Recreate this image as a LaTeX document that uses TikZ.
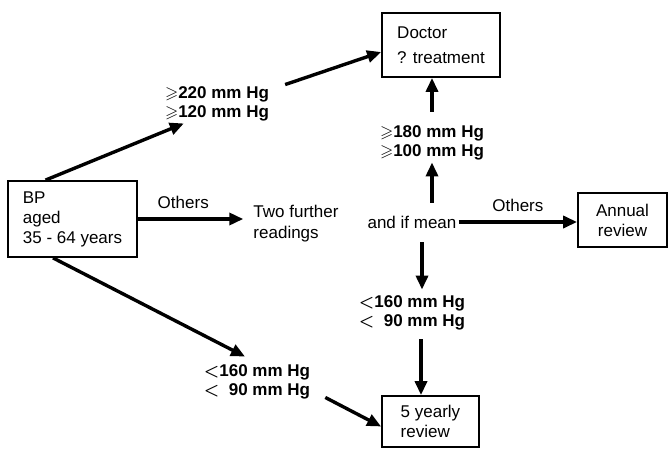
\documentclass[tikz,border=0pt]{standalone}
\usepackage{amssymb}
\usepackage{fontspec}
\setmainfont{Liberation Sans}
\usetikzlibrary{arrows.meta}
\tikzset{box/.style={rectangle, draw=black, line width=1.8pt, align=left, font=\fontsize{17}{20}\selectfont}, reading/.style={font=\fontsize{17}{19}\selectfont\bfseries\boldmath, align=left, inner sep=2pt}, plain/.style={font=\fontsize{17}{21}\selectfont, align=left, inner sep=2pt}, arrow/.style={-{Triangle[length=14pt,width=12pt]}, line width=3.4pt, draw=black}}

\begin{document}
\begin{tikzpicture}[x=1pt,y=-1pt]
\useasboundingbox (0,0) rectangle (668,450);
\node[box, minimum width=129pt, minimum height=76pt] (bp) at (72.5,219) {BP\\aged\\35 - 64 years};
\node[box, minimum width=118pt, minimum height=64pt] (doctor) at (441,45) {Doctor\\[5pt]? treatment};
\node[box, align=center, minimum width=89pt, minimum height=54pt] (annual) at (622.5,220) {Annual\\review};
\node[box, minimum width=97pt, minimum height=51pt] (five) at (430.5,421.5) {5 yearly\\review};
\node[reading] (high1) at (217,104) {$\geqslant$220 mm Hg\\$\geqslant$120 mm Hg};
\node[reading] (high2) at (432,143) {$\geqslant$180 mm Hg\\$\geqslant$100 mm Hg};
\node[reading] (low2) at (412,313) {$<$160 mm Hg\\$<$\phantom{1}90 mm Hg};
\node[reading] (low1) at (257,382) {$<$160 mm Hg\\$<$\phantom{1}90 mm Hg};
\node[plain] (further) at (296,224) {Two further\\readings};
\node[plain] (mean) at (412,222) {and if mean};
\draw[arrow] ([xshift=-27pt]bp.north) -- ([xshift=21pt]high1.south west);
\draw[arrow] ([xshift=14pt]high1.north east) -- ([yshift=-7pt]doctor.west);
\draw[arrow] ([yshift=12pt]high2.north) -- (high2.north |- doctor.south);
\draw[arrow] ([xshift=20pt,yshift=11pt]mean.north) -- (high2.south);
\draw[arrow] (mean.east) -- (mean.east -| annual.west) node[plain, midway, above=7pt] {Others};
\draw[arrow] ([xshift=10pt,yshift=-12pt]mean.south) -- ([xshift=10pt,yshift=4pt]low2.north);
\draw[arrow] ([xshift=9pt,yshift=-7pt]low2.south) -- ([xshift=-9.5pt]five.north);
\draw[arrow, shorten >=8pt] (bp.east) -- (bp.east -| further.west) node[plain, pos=0.4, above=7pt] {Others};
\draw[arrow] ([xshift=-19.5pt]bp.south) -- ([xshift=-12pt,yshift=6pt]low1.north);
\draw[arrow] ([xshift=13pt,yshift=4pt]low1.south east) -- ([yshift=-5pt]five.west);
\end{tikzpicture}
\end{document}
